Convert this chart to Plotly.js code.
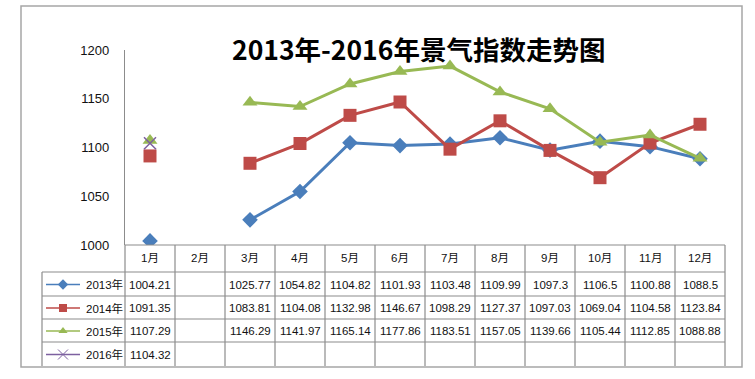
<!DOCTYPE html>
<html><head><meta charset="utf-8">
<script src="https://cdn.plot.ly/plotly-3.0.1.min.js"></script>
<style>html,body{margin:0;padding:0;background:#fff;}#chart{width:755px;height:379px;}</style>
</head><body><div id="chart"></div>
<script>
const months = ['1月','2月','3月','4月','5月','6月','7月','8月','9月','10月','11月','12月'];
const seriesNames = ['2013年','2014年','2015年','2016年'];
const s2013 = [1004.21, null, 1025.77, 1054.82, 1104.82, 1101.93, 1103.48, 1109.99, 1097.3, 1106.5, 1100.88, 1088.5];
const s2014 = [1091.35, null, 1083.81, 1104.08, 1132.98, 1146.67, 1098.29, 1127.37, 1097.03, 1069.04, 1104.58, 1123.84];
const s2015 = [1107.29, null, 1146.29, 1141.97, 1165.14, 1177.86, 1183.51, 1157.05, 1139.66, 1105.44, 1112.85, 1088.88];
const s2016 = [1104.32, null, null, null, null, null, null, null, null, null, null, null];
const yTicks = [1000, 1050, 1100, 1150, 1200];
const titleText = '2013年-2016年景气指数走势图';

const W = 755, H = 379;
const colors = ['#4A7EBB', '#BE4B48', '#98B954', '#7D60A0'];
const symbols = ['diamond', 'square', 'triangle-up', 'x-thin'];
const sizes = [12, 13, 13, 12];
const data = [s2013, s2014, s2015, s2016];

// plot area in pixels
const PL = 125, PR = 725, PT = 50, PB = 245;
const px = x => x / W;
const py = y => 1 - y / H;

const traces = [];
data.forEach((d, i) => {
  traces.push({
    type: 'scatter', mode: 'lines+markers', x: months, y: d, name: seriesNames[i],
    connectgaps: false, showlegend: false,
    line: {color: colors[i], width: 3},
    marker: {symbol: symbols[i], size: sizes[i], color: colors[i],
             line: {color: colors[i], width: i === 3 ? 1.5 : 0}}
  });
});

// table geometry
const rowTops = [245, 272, 296, 319, 342, 366];
const legendLeft = 42;
const colW = (PR - PL) / 12;
const shapes = [];
const line = (x0, y0, x1, y1, c, w) => shapes.push({type: 'line', xref: 'paper', yref: 'paper',
  x0: px(x0), y0: py(y0), x1: px(x1), y1: py(y1), line: {color: c, width: w}});
// outer border
shapes.push({type: 'rect', xref: 'paper', yref: 'paper', x0: px(21), y0: py(367), x1: px(742), y1: py(6),
  line: {color: '#A6A6A6', width: 1.5}});
const tc = '#8C8C8C';
line(PL, 245, PR, 245, tc, 1.2);
for (let r = 1; r < 5; r++) line(legendLeft, rowTops[r], PR, rowTops[r], tc, 1.2);
for (let k = 0; k <= 12; k++) line(PL + k * colW, 245, PL + k * colW, 366, tc, 1.2);
line(legendLeft, 272, legendLeft, 366, tc, 1.2);

const annotations = [];
const fontT = {family: 'Liberation Sans, Noto Sans CJK SC, sans-serif', size: 11.5, color: '#111'};
months.forEach((m, k) => {
  annotations.push({xref: 'paper', yref: 'paper', x: px(PL + (k + 0.5) * colW), y: py(258),
    text: m, showarrow: false, font: fontT, xanchor: 'center', yanchor: 'middle'});
});
data.forEach((d, i) => {
  const yc = (rowTops[i + 1] + rowTops[i + 2]) / 2 + 0.5;
  d.forEach((v, k) => {
    if (v === null) return;
    annotations.push({xref: 'paper', yref: 'paper', x: px(PL + (k + 0.5) * colW), y: py(yc),
      text: String(v), showarrow: false, font: fontT, xanchor: 'center', yanchor: 'middle'});
  });
  annotations.push({xref: 'paper', yref: 'paper', x: px(84), y: py(yc),
    text: seriesNames[i], showarrow: false, font: fontT, xanchor: 'left', yanchor: 'middle'});
  traces.push({type: 'scatter', mode: 'lines', x: [46, 80], y: [yc, yc], xaxis: 'x2', yaxis: 'y2',
    showlegend: false, hoverinfo: 'skip', line: {color: colors[i], width: 1.5}});
  traces.push({type: 'scatter', mode: 'markers', x: [63], y: [yc], xaxis: 'x2', yaxis: 'y2',
    showlegend: false, hoverinfo: 'skip',
    marker: {symbol: symbols[i], size: i === 3 ? 10 : 8, color: colors[i],
             line: {color: colors[i], width: i === 3 ? 1 : 0}}});
});
annotations.push({xref: 'paper', yref: 'paper', x: px(418), y: py(48), text: '<b>' + titleText + '</b>',
  showarrow: false, xanchor: 'center', yanchor: 'middle',
  font: {family: 'Noto Sans CJK SC, sans-serif', size: 26.5, color: '#000'}});

const layout = {
  width: W, height: H, margin: {l: 0, r: 0, t: 0, b: 0},
  paper_bgcolor: '#fff', plot_bgcolor: 'rgba(0,0,0,0)', showlegend: false,
  xaxis: {domain: [px(PL), px(PR)], type: 'category', categoryorder: 'array', categoryarray: months,
    range: [-0.5, 11.5], showticklabels: false, showgrid: false, zeroline: false, showline: false, ticks: ''},
  yaxis: {domain: [py(PB), py(PT)], range: [1000, 1200], tickvals: yTicks, showgrid: false, zeroline: false,
    showline: true, linecolor: '#8C8C8C', linewidth: 1.2, ticks: 'outside', ticklen: 12, tickcolor: 'rgba(0,0,0,0)',
    tickfont: {family: 'Liberation Sans, sans-serif', size: 13, color: '#111'}},
  xaxis2: {domain: [0, 1], range: [0, W], visible: false, fixedrange: true, anchor: 'y2'},
  yaxis2: {domain: [0, 1], range: [H, 0], visible: false, fixedrange: true, anchor: 'x2'},
  shapes: shapes, annotations: annotations
};
Plotly.newPlot('chart', traces, layout, {displayModeBar: false, staticPlot: true});
</script></body></html>
